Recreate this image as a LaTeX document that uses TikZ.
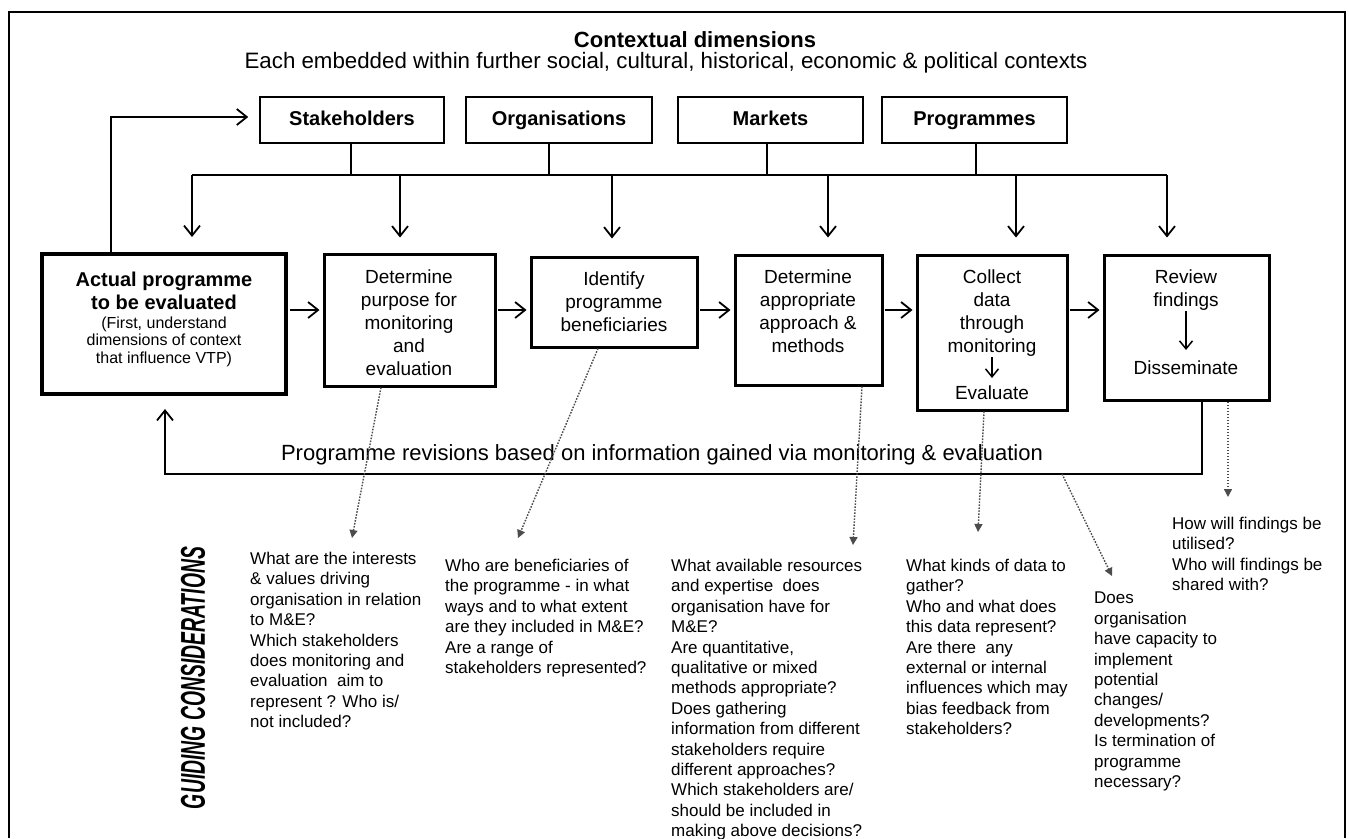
\documentclass[tikz,border=0pt]{standalone}
\usepackage{fontspec}
\setmainfont{Liberation Sans}
\usepackage{graphicx}
\usetikzlibrary{arrows.meta}
\begin{document}
\begin{tikzpicture}[x=1pt,y=-1pt,
  arr/.style={line width=1.8pt,-{Straight Barb[length=10pt,width=16pt,line width=1.8pt]}},
  smallarr/.style={line width=1.5pt,-{Straight Barb[length=8pt,width=13pt,line width=1.5pt]}},
  dotarr/.style={line width=1.4pt,black!70,dash pattern=on 1.6pt off 1.4pt,-{Triangle[length=8pt,width=8pt]}},
  topbox/.style={draw,line width=1.6pt,minimum width=185pt,minimum height=46pt,inner sep=0pt,text height=14.5pt,text depth=4pt,font=\bfseries\fontsize{20}{24}\selectfont},
  mainbox/.style={draw,line width=3pt,inner sep=0pt},
  boxtext/.style={anchor=north,align=center,inner sep=0pt,font=\fontsize{19}{23}\selectfont},
  guide/.style={anchor=north west,align=left,inner sep=0pt,font=\fontsize{17}{20.4}\selectfont},
  thinline/.style={line width=1.5pt}
]
\useasboundingbox (0,0) rectangle (1349,838);
\fill[white] (0,0) rectangle (1349,838);
\draw[line width=1.2pt] (9,838) -- (9,12) -- (1345,12) -- (1345,838);

% titles
\node[font=\bfseries\fontsize{22}{26}\selectfont] (title) at (695,40) {Contextual dimensions};
\node[font=\fontsize{22.3}{26}\selectfont] (sub) at (666,63) {Each embedded within further social, cultural, historical, economic \& political contexts};

% top boxes
\node[topbox,minimum width=184pt] (sta) at (352,120) {Stakeholders};
\node[topbox,minimum width=186pt] (org) at (559,120) {Organisations};
\node[topbox] (mar) at (770.5,120) {Markets};
\node[topbox] (pro) at (974.5,120) {Programmes};

% distribution
\coordinate (s1) at (351,175);
\coordinate (s2) at (549,175);
\coordinate (s3) at (767,175);
\coordinate (s4) at (976,175);
\draw[thinline] (sta.south -| s1) -- (s1);
\draw[thinline] (org.south -| s2) -- (s2);
\draw[thinline] (mar.south -| s3) -- (s3);
\draw[thinline] (pro.south -| s4) -- (s4);
\coordinate (a1) at (192,175);
\coordinate (a2) at (400,175);
\coordinate (a3) at (612,175);
\coordinate (a4) at (828,175);
\coordinate (a5) at (1016,175);
\coordinate (a6) at (1167,175);
\draw[thinline] (a1) -- (a6);

% main boxes
\node[mainbox,line width=4pt,minimum width=244pt,minimum height=140pt] (act) at (164,324) {};
\node[mainbox,minimum width=171pt,minimum height=132pt] (pur) at (409.5,320) {};
\node[mainbox,minimum width=166pt,minimum height=90pt] (idn) at (614,302) {};
\node[mainbox,minimum width=147pt,minimum height=130pt] (app) at (808.5,320) {};
\node[mainbox,minimum width=150pt,minimum height=155pt] (col) at (992,332.5) {};
\node[mainbox,minimum width=165pt,minimum height=145pt] (rev) at (1186.5,327.5) {};

\draw[arr,shorten >=15pt] (a1) -- (a1 |- act.north);
\draw[arr,shorten >=15pt] (a2) -- (a2 |- pur.north);
\draw[arr,shorten >=17pt] (a3) -- (a3 |- idn.north);
\draw[arr,shorten >=16pt] (a4) -- (a4 |- app.north);
\draw[arr,shorten >=16pt] (a5) -- (a5 |- col.north);
\draw[arr,shorten >=16pt] (a6) -- (a6 |- rev.north);

% box texts
\node[font=\bfseries\fontsize{20}{23}\selectfont,anchor=north,align=center,inner sep=0pt] (actA) at (164,272) {Actual programme\\to be evaluated};
\node[font=\fontsize{16}{17.2}\selectfont,anchor=north,align=center,inner sep=0pt] (actB) at (164,317) {(First, understand\\dimensions of context\\that influence VTP)};
\node[boxtext] (purT) at (409,270) {Determine\\purpose for\\monitoring\\and\\evaluation};
\node[boxtext] (idnT) at (614,272) {Identify\\programme\\beneficiaries};
\node[boxtext] (appT) at (808,270) {Determine\\appropriate\\approach \&\\methods};
\node[boxtext] (colT) at (992,270) {Collect\\data\\through\\monitoring};
\node[boxtext] (colE) at (992,386) {Evaluate};
\node[boxtext] (revT) at (1186,270) {Review\\findings};
\node[boxtext] (revD) at (1186,361) {Disseminate};
\draw[smallarr,shorten >=8pt] (colT.south) -- (colE.north);
\draw[smallarr,shorten >=11pt] (revT.south) -- (revD.north);

% horizontal flow arrows
\coordinate (hy) at (0,310);
\draw[arr,shorten <=2pt,shorten >=3pt] (act.east |- hy) -- (pur.west |- hy);
\draw[arr,shorten <=1pt,shorten >=3pt] (pur.east |- hy) -- (idn.west |- hy);
\draw[arr,shorten <=1pt,shorten >=3pt] (idn.east |- hy) -- (app.west |- hy);
\draw[arr,shorten <=1pt,shorten >=3pt] (app.east |- hy) -- (col.west |- hy);
\draw[arr,shorten <=1pt,shorten >=3pt] (col.east |- hy) -- (rev.west |- hy);

% feedback loop
\coordinate (fR) at (1202,474);
\coordinate (fL) at (165,474);
\draw[arr,shorten >=13pt] (rev.south -| fR) -- (fR) -- (fL) -- (act.south -| fL);
\node[font=\fontsize{22}{26}\selectfont] (fbT) at (662,455) {Programme revisions based on information gained via monitoring \& evaluation};

% loop to stakeholders
\coordinate (lp) at (111,117);
\draw[arr,shorten >=11pt] (act.north -| lp) -- (lp) -- (sta.west |- lp);

% dotted arrows
\coordinate (t1) at (352,538);
\coordinate (t2) at (518,538);
\coordinate (t3) at (853,545);
\coordinate (t4) at (978,532);
\coordinate (f5) at (1062,474);
\coordinate (t5) at (1112,576);
\coordinate (t6) at (1228,497);
\draw[dotarr] ([xshift=-28.5pt]pur.south) -- (t1);
\draw[dotarr] ([xshift=-16pt]idn.south) -- (t2);
\draw[dotarr] ([xshift=53.5pt]app.south) -- (t3);
\draw[dotarr] ([xshift=-8pt]col.south) -- (t4);
\draw[dotarr] (f5) -- (t5);
\draw[dotarr] ([xshift=41.5pt]rev.south) -- (t6);

% guiding considerations
\node[rotate=90,inner sep=0pt] (gc) at (193,678) {\resizebox{262pt}{24pt}{\bfseries\itshape GUIDING CONSIDERATIONS}};

\node[guide] (g1) at (250,552) {What are the interests\\\& values driving\\organisation in relation\\to M\&E?\\Which stakeholders\\does monitoring and\\evaluation\ \ aim to\\represent ? Who is/\\not included?};
\node[guide] (g2) at (445,559) {Who are beneficiaries of\\the programme - in what\\ways and to what extent\\are they included in M\&E?\\Are a range of\\stakeholders represented?};
\node[guide] (g3) at (671,559) {What available resources\\and expertise\ \ does\\organisation have for\\M\&E?\\Are quantitative,\\qualitative or mixed\\methods appropriate?\\Does gathering\\information from different\\stakeholders require\\different approaches?\\Which stakeholders are/\\should be included in\\making above decisions?};
\node[guide] (g4) at (906,559) {What kinds of data to\\gather?\\Who and what does\\this data represent?\\Are there\ \ any\\external or internal\\influences which may\\bias feedback from\\stakeholders?};
\node[guide] (g5) at (1094,592) {Does\\organisation\\have capacity to\\implement\\potential\\changes/\\developments?\\Is termination of\\programme\\necessary?};
\node[guide] (g6) at (1172,517) {How will findings be\\utilised?\\Who will findings be\\shared with?};
\end{tikzpicture}
\end{document}
